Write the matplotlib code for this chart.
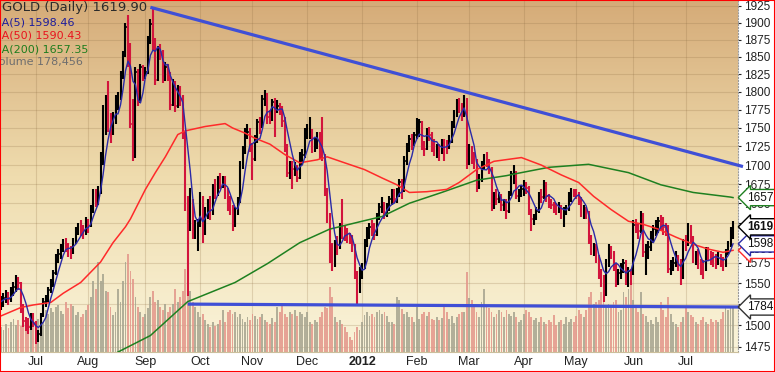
import numpy as np
import pandas as pd
import matplotlib
matplotlib.use("Agg")
import matplotlib.pyplot as plt
import matplotlib.transforms as mtransforms
from matplotlib.colors import LinearSegmentedColormap
from matplotlib.patches import Rectangle
from matplotlib.ticker import FixedLocator, NullLocator, NullFormatter, FuncFormatter

plt.rcParams['font.family'] = ['Liberation Sans', 'DejaVu Sans']

# 거래일 (2011-06-13 ~ 2012-07-27)
dates = pd.bdate_range("2011-06-13", "2012-07-27")

close = [1528, 1532, 1535, 1531, 1540, 1545, 1553, 1550, 1522, 1505,
         1500, 1498, 1510, 1503, 1486, 1490, 1512, 1528, 1530, 1542,
         1548, 1562, 1582, 1586, 1592, 1600, 1596, 1590, 1588, 1601,
         1615, 1620, 1616, 1612, 1625, 1622, 1640, 1662, 1655, 1665,
         1710, 1745, 1790, 1760, 1745, 1760, 1790, 1792, 1822, 1852,
         1893, 1860, 1755, 1715, 1828, 1790, 1835, 1825, 1828, 1875,
         1898, 1872, 1817, 1860, 1857, 1820, 1836, 1822, 1782, 1812,
         1780, 1805, 1790, 1740, 1655, 1625, 1652, 1615, 1618, 1622,
         1660, 1617, 1638, 1650, 1636, 1670, 1665, 1683, 1675, 1682,
         1665, 1650, 1641, 1628, 1640, 1653, 1700, 1720, 1745, 1745,
         1725, 1708, 1735, 1758, 1752, 1790, 1795, 1765, 1762, 1786,
         1778, 1780, 1775, 1760, 1725, 1690, 1700, 1695, 1697, 1683,
         1713, 1713, 1745, 1745, 1745, 1722, 1730, 1740, 1715, 1712,
         1665, 1630, 1593, 1575, 1598, 1595, 1620, 1618, 1610, 1607,
         1605, 1595, 1560, 1540, 1565, 1570, 1600, 1612, 1620, 1617,
         1610, 1633, 1645, 1648, 1635, 1645, 1655, 1660, 1656, 1664,
         1678, 1665, 1705, 1725, 1735, 1730, 1740, 1745, 1758, 1728,
         1722, 1745, 1740, 1730, 1720, 1722, 1718, 1730, 1728, 1725,
         1735, 1755, 1770, 1785, 1778, 1770, 1785, 1710, 1720, 1712,
         1705, 1672, 1683, 1700, 1710, 1703, 1695, 1645, 1660, 1656,
         1660, 1648, 1650, 1640, 1662, 1688, 1690, 1660, 1662, 1668,
         1675, 1670, 1640, 1630, 1632, 1640, 1660, 1658, 1675, 1660,
         1650, 1648, 1645, 1642, 1645, 1638, 1640, 1642, 1660, 1665,
         1664, 1662, 1654, 1637, 1643, 1638, 1605, 1590, 1595, 1580,
         1560, 1555, 1538, 1575, 1592, 1588, 1570, 1550, 1562, 1570,
         1575, 1555, 1565, 1562, 1622, 1620, 1615, 1635, 1588, 1590,
         1595, 1610, 1617, 1620, 1627, 1625, 1620, 1615, 1568, 1572,
         1575, 1580, 1575, 1550, 1600, 1598, 1620, 1605, 1580, 1585,
         1575, 1570, 1568, 1590, 1585, 1582, 1580, 1578, 1583, 1578,
         1572, 1588, 1598, 1615, 1619.9]

high = [1535, 1538, 1542, 1540, 1546, 1552, 1560, 1558, 1552, 1525,
        1510, 1508, 1514, 1515, 1505, 1495, 1515, 1532, 1536, 1546,
        1555, 1566, 1586, 1592, 1598, 1605, 1606, 1600, 1596, 1606,
        1620, 1625, 1628, 1622, 1632, 1630, 1648, 1668, 1668, 1672,
        1718, 1782, 1795, 1815, 1770, 1772, 1795, 1800, 1830, 1858,
        1900, 1912, 1870, 1790, 1835, 1832, 1840, 1838, 1835, 1880,
        1905, 1920, 1878, 1866, 1868, 1860, 1842, 1840, 1828, 1818,
        1815, 1810, 1808, 1795, 1745, 1660, 1670, 1655, 1628, 1630,
        1665, 1660, 1645, 1655, 1660, 1675, 1682, 1686, 1690, 1686,
        1685, 1670, 1660, 1648, 1645, 1658, 1705, 1725, 1750, 1755,
        1750, 1730, 1740, 1762, 1765, 1795, 1803, 1798, 1775, 1790,
        1792, 1788, 1785, 1780, 1765, 1728, 1705, 1706, 1704, 1700,
        1718, 1722, 1750, 1755, 1765, 1748, 1738, 1745, 1745, 1765,
        1715, 1670, 1638, 1600, 1603, 1608, 1625, 1655, 1622, 1618,
        1612, 1610, 1598, 1565, 1570, 1575, 1605, 1620, 1625, 1628,
        1625, 1638, 1650, 1658, 1652, 1650, 1660, 1668, 1668, 1670,
        1682, 1682, 1712, 1730, 1740, 1742, 1745, 1763, 1762, 1760,
        1732, 1750, 1752, 1745, 1735, 1728, 1728, 1735, 1735, 1733,
        1740, 1760, 1775, 1790, 1792, 1785, 1795, 1792, 1728, 1725,
        1718, 1708, 1688, 1705, 1715, 1718, 1708, 1698, 1665, 1668,
        1664, 1662, 1656, 1655, 1666, 1692, 1700, 1692, 1668, 1672,
        1680, 1678, 1672, 1642, 1636, 1645, 1665, 1668, 1680, 1678,
        1662, 1655, 1652, 1650, 1652, 1648, 1645, 1648, 1665, 1670,
        1668, 1668, 1665, 1658, 1648, 1645, 1640, 1610, 1600, 1598,
        1585, 1568, 1560, 1580, 1598, 1596, 1590, 1575, 1568, 1575,
        1580, 1578, 1570, 1568, 1628, 1630, 1625, 1640, 1638, 1598,
        1602, 1615, 1622, 1628, 1632, 1635, 1632, 1625, 1622, 1578,
        1582, 1590, 1585, 1580, 1605, 1610, 1625, 1622, 1608, 1590,
        1592, 1580, 1578, 1595, 1595, 1590, 1588, 1586, 1588, 1586,
        1582, 1592, 1602, 1620, 1627]

low = [1518, 1522, 1526, 1524, 1528, 1535, 1540, 1542, 1515, 1498,
       1493, 1490, 1495, 1498, 1478, 1480, 1488, 1510, 1522, 1528,
       1538, 1545, 1560, 1575, 1580, 1588, 1588, 1582, 1580, 1586,
       1598, 1610, 1608, 1605, 1610, 1612, 1620, 1638, 1645, 1648,
       1662, 1700, 1740, 1745, 1730, 1740, 1755, 1775, 1788, 1818,
       1850, 1835, 1750, 1705, 1710, 1780, 1785, 1815, 1818, 1825,
       1868, 1860, 1810, 1815, 1845, 1812, 1815, 1815, 1775, 1780,
       1772, 1778, 1780, 1735, 1640, 1535, 1615, 1605, 1605, 1590,
       1620, 1600, 1610, 1630, 1628, 1635, 1655, 1660, 1668, 1670,
       1655, 1640, 1635, 1615, 1620, 1635, 1650, 1695, 1715, 1735,
       1718, 1680, 1705, 1730, 1742, 1750, 1780, 1755, 1755, 1760,
       1738, 1770, 1768, 1752, 1718, 1684, 1682, 1668, 1686, 1678,
       1682, 1700, 1710, 1735, 1735, 1716, 1718, 1722, 1708, 1705,
       1660, 1625, 1575, 1565, 1570, 1585, 1592, 1605, 1602, 1600,
       1598, 1588, 1555, 1523, 1538, 1555, 1568, 1595, 1605, 1608,
       1603, 1608, 1628, 1638, 1630, 1632, 1640, 1648, 1650, 1650,
       1658, 1655, 1665, 1700, 1718, 1720, 1725, 1735, 1738, 1720,
       1712, 1720, 1732, 1718, 1712, 1710, 1705, 1715, 1705, 1715,
       1722, 1730, 1750, 1765, 1770, 1760, 1765, 1695, 1700, 1702,
       1695, 1665, 1668, 1678, 1695, 1698, 1688, 1640, 1642, 1648,
       1650, 1640, 1640, 1630, 1638, 1660, 1675, 1655, 1652, 1658,
       1660, 1662, 1635, 1615, 1622, 1628, 1638, 1650, 1655, 1652,
       1644, 1642, 1638, 1635, 1638, 1630, 1620, 1635, 1640, 1652,
       1658, 1655, 1648, 1632, 1630, 1630, 1598, 1585, 1583, 1575,
       1555, 1545, 1527, 1535, 1570, 1580, 1565, 1545, 1548, 1555,
       1562, 1548, 1545, 1548, 1560, 1612, 1605, 1612, 1582, 1560,
       1580, 1590, 1600, 1608, 1612, 1615, 1610, 1608, 1562, 1560,
       1565, 1570, 1565, 1548, 1555, 1590, 1596, 1598, 1575, 1572,
       1568, 1560, 1555, 1565, 1578, 1572, 1570, 1568, 1572, 1570,
       1565, 1570, 1585, 1595, 1605]

# 거래량 (천 단위)
volume_k = [100, 88, 112, 96, 120, 132, 108, 128, 104, 120,
            96, 112, 88, 120, 100, 132, 144, 120, 168, 152,
            176, 160, 180, 188, 164, 152, 200, 176, 192, 184,
            148, 160, 140, 152, 168, 188, 220, 280, 248, 356,
            280, 308, 240, 236, 180, 148, 160, 248, 200, 280,
            356, 388, 320, 288, 220, 180, 160, 140, 152, 176,
            220, 240, 200, 208, 180, 168, 192, 160, 180, 192,
            248, 200, 220, 240, 328, 344, 240, 200, 180, 160,
            140, 152, 128, 112, 100, 120, 104, 112, 128, 168,
            120, 160, 168, 152, 160, 140, 152, 132, 120, 140,
            128, 152, 144, 132, 140, 152, 128, 120, 112, 136,
            120, 180, 160, 184, 152, 140, 160, 152, 168, 144,
            160, 152, 140, 160, 120, 112, 128, 120, 140, 160,
            180, 176, 256, 220, 140, 120, 128, 112, 100, 80,
            60, 48, 80, 100, 88, 120, 148, 160, 144, 152,
            140, 160, 168, 152, 160, 144, 120, 120, 112, 220,
            208, 172, 152, 160, 140, 140, 120, 180, 132, 152,
            160, 144, 160, 132, 128, 140, 128, 136, 180, 160,
            132, 144, 116, 140, 152, 160, 160, 316, 216, 208,
            180, 160, 140, 200, 248, 180, 176, 160, 140, 152,
            168, 160, 140, 168, 152, 144, 160, 140, 120, 128,
            152, 168, 160, 140, 128, 136, 120, 140, 120, 112,
            128, 120, 148, 108, 120, 128, 112, 140, 120, 132,
            120, 144, 168, 152, 140, 168, 220, 236, 192, 200,
            208, 236, 220, 180, 192, 180, 200, 208, 160, 168,
            236, 220, 248, 276, 208, 180, 160, 236, 152, 144,
            120, 128, 112, 140, 120, 200, 168, 140, 220, 152,
            120, 112, 100, 120, 140, 176, 160, 148, 140, 120,
            112, 128, 140, 120, 112, 132, 120, 128, 120, 132,
            160, 180, 168, 176, 178.456]

# 이동평균
ma50_at = [0, 8, 13, 20, 25, 32, 40, 45, 50, 52, 58, 62, 66, 71, 74, 82, 90, 93, 98, 102,
           108, 114, 120, 127, 131, 138, 146, 153, 159, 164, 171, 179, 184, 191, 198, 209,
           217, 225, 232, 238, 245, 252, 258, 264, 271, 278, 284, 290, 294]
ma50_val = [1511, 1521, 1524, 1527, 1538, 1551, 1576, 1600, 1620, 1630, 1668, 1690, 1711,
            1741, 1746, 1752, 1756, 1750, 1743, 1736, 1728, 1714, 1703, 1707, 1711, 1703,
            1694, 1683, 1674, 1664, 1665, 1668, 1677, 1694, 1705, 1710, 1700, 1687, 1677,
            1659, 1642, 1627, 1623, 1617, 1607, 1598, 1592, 1588, 1590.43]
ma200_at = [30, 47, 60, 75, 94, 107, 120, 132, 145, 153, 164, 177, 191, 203, 209, 220, 236,
            252, 265, 278, 293, 294]
ma200_val = [1440, 1469, 1488, 1528, 1551, 1574, 1600, 1617, 1627, 1633, 1650, 1664, 1680,
             1686, 1690, 1697, 1701, 1690, 1674, 1664, 1658, 1657.35]

# 추세선
trend_at = [60, 298]
trend_val = [1923, 1698]
support_at = [75, 298]
support_val = [1525, 1521.5]

x = np.arange(len(close))
c = np.array(close, float)
up = np.r_[True, c[1:] >= c[:-1]]
bar_col = np.where(up, "#000000", "#d2143c")
vol_col = np.where(up, "#a6a48f", "#e3968a")
ma5 = pd.Series(c).rolling(5, min_periods=1).mean()

fig = plt.figure(figsize=(7.75, 3.72), dpi=100)
rect = [0.0, 20 / 372, 738 / 775, 352 / 372]
xlim = (-0.4, 296.0)

bg = fig.add_axes(rect)
bg_cmap = LinearSegmentedColormap.from_list("bg", ["#faf4da", "#efdcae", "#d5ab78"])
bg.imshow(np.linspace(0, 1, 256).reshape(-1, 1), aspect="auto", cmap=bg_cmap,
          origin="lower", extent=[0, 1, 0, 1])
bg.set_xlim(0, 1)
bg.set_ylim(0, 1)
bg.axis("off")

axv = fig.add_axes(rect)
axv.patch.set_visible(False)
ax = fig.add_axes(rect)
ax.patch.set_visible(False)

# 가격축
ax.set_yscale("log")
ax.set_ylim(1469, 1934)
ax.set_xlim(*xlim)
ticks = list(range(1475, 1926, 25))
ax.yaxis.set_major_locator(FixedLocator(ticks))
ax.yaxis.set_minor_locator(NullLocator())
ax.yaxis.set_minor_formatter(NullFormatter())
ax.yaxis.set_major_formatter(FuncFormatter(lambda v, p: "%d" % round(v)))
ax.yaxis.tick_right()
ax.tick_params(axis="y", length=2.5, pad=1.5, labelsize=8.5, colors="#222222")

month_idx = [i for i in range(1, len(dates)) if dates[i].month != dates[i - 1].month]
month_lbl = ["2012" if dates[i].month == 1 else dates[i].strftime("%b") for i in month_idx]
ax.set_xticks(month_idx)
ax.set_xticklabels(month_lbl)
ax.tick_params(axis="x", length=0, pad=3, labelsize=9, labelcolor="#222222")
for t in ax.get_xticklabels():
    if t.get_text() == "2012":
        t.set_fontweight("bold")

for s in ["left", "top"]:
    ax.spines[s].set_visible(False)
ax.spines["right"].set_color("#9a9a9a")
ax.spines["right"].set_linestyle(":")
ax.spines["bottom"].set_color("#cbbf9c")

# 그리드 (거래량 아래)
axv.set_xlim(*xlim)
axv.set_ylim(0, 178.456 * 352 / 45)
for t in ticks:
    axv.plot([0, 1], [t, t], transform=ax.get_yaxis_transform(), color="#8a6a40",
             alpha=0.22, lw=0.8, zorder=1)
axv.vlines(month_idx, 0, 1, transform=axv.get_xaxis_transform(), color="#8a6a40",
           alpha=0.22, lw=0.8, zorder=1)
axv.bar(x, volume_k, width=0.75, color=vol_col, alpha=0.85, lw=0, zorder=2)
axv.axis("off")

# 가격 막대
ax.vlines(x, low, high, colors=bar_col, lw=1.5, zorder=3)
ax.hlines(close, x, x + 0.5, colors=bar_col, lw=1.1, zorder=3)

ax.plot(ma200_at, ma200_val, color="#1e8020", lw=1.1, zorder=4)
ax.plot(ma50_at, ma50_val, color="#ff2a2a", lw=1.1, zorder=4)
ax.plot(x, ma5, color="#2a2aa8", lw=1.0, zorder=4)

ax.plot(trend_at, trend_val, color="#3f4fd6", lw=2.3, zorder=5, clip_on=False,
        solid_capstyle="butt")
ax.plot(support_at, support_val, color="#3f4fd6", lw=2.3, zorder=5, clip_on=False,
        solid_capstyle="butt")

# 오른쪽 값 태그
blend = mtransforms.blended_transform_factory(ax.transAxes, ax.transData)
tags = [(1590.43, "1590.43", "#ff2a2a", "normal"),
        (1598.46, "1598.46", "#2a2aa8", "normal"),
        (1619.90, "1619.90", "#000000", "bold"),
        (1657.35, "1657.35", "#1e8020", "normal")]
for val, txt, col, w in tags:
    ax.text(1.0 + 9 / 738, val, txt, transform=blend, va="center", ha="left",
            fontsize=8.5, fontweight=w, color="#111111", clip_on=False, zorder=10,
            bbox=dict(boxstyle="larrow,pad=0.18", fc="white", ec=col, lw=1.0))
vblend = mtransforms.blended_transform_factory(ax.transAxes, axv.transData)
ax.text(1.0 + 9 / 738, 178.456, "178456", transform=vblend, va="center", ha="left",
        fontsize=8.5, color="#111111", clip_on=False, zorder=10,
        bbox=dict(boxstyle="larrow,pad=0.18", fc="white", ec="#333333", lw=1.0))

# 범례 글자
def px_text(px, py, s, col, size):
    fig.text(px / 775, 1 - py / 372, s, color=col, fontsize=size, va="center",
             ha="left", family="DejaVu Sans")

px_text(2, 8, "GOLD (Daily) 1619.90", "#2b2b2b", 9.5)
px_text(-8, 22.5, "MA(5) 1598.46", "#1c1c9c", 8)
px_text(-8, 36, "MA(50) 1590.43", "#e8141e", 8)
px_text(-8, 49.5, "MA(200) 1657.35", "#1e7d1e", 8)
px_text(-8, 62.5, "Volume 178,456", "#6e6e6e", 8)

fig.add_artist(Rectangle((0, 0), 1, 1, transform=fig.transFigure, fill=False,
                         ec="#ff0000", lw=1.5, zorder=50))

fig.savefig("out.png", dpi=100)
